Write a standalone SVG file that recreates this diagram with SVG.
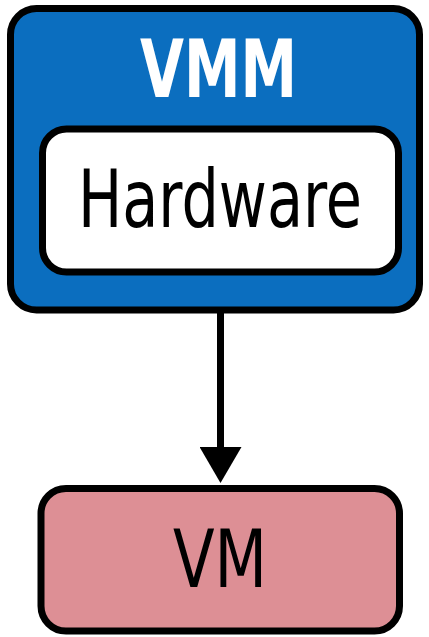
<svg xmlns="http://www.w3.org/2000/svg" width="429" height="637" viewBox="0 0 429 637">
  <style>
    .box { stroke: #000; stroke-width: 7; }
    .lbl { font-family: "DejaVu Sans Condensed", "DejaVu Sans", sans-serif; font-size: 81px; text-anchor: middle; }
  </style>
  <defs>
    <marker id="arrow" viewBox="0 0 36 42" refX="0" refY="21" markerWidth="36" markerHeight="42" markerUnits="userSpaceOnUse" orient="auto">
      <path d="M0,0 L36,21 L0,42 Z" fill="#000"/>
    </marker>
  </defs>
  <rect width="429" height="637" fill="#fff"/>
  <g id="vmm">
    <rect class="box" x="10.5" y="8.5" width="409" height="301.5" rx="26" fill="#0b6ebf"/>
    <text class="lbl" x="218.5" y="97" font-weight="bold" fill="#fff" textLength="157" lengthAdjust="spacingAndGlyphs">VMM</text>
  </g>
  <g id="hardware">
    <rect class="box" x="42.5" y="129" width="356" height="143" rx="24" fill="#fff"/>
    <text class="lbl" x="220" y="227" fill="#000" textLength="284" lengthAdjust="spacingAndGlyphs">Hardware</text>
  </g>
  <g id="connectors">
    <line x1="220.5" y1="313" x2="220.5" y2="447" stroke="#000" stroke-width="7" marker-end="url(#arrow)"/>
  </g>
  <g id="vm">
    <rect class="box" x="41" y="488.5" width="358.5" height="142.5" rx="25" fill="#dd8f95"/>
    <text class="lbl" x="220" y="587" fill="#000" textLength="94" lengthAdjust="spacingAndGlyphs">VM</text>
  </g>
</svg>
